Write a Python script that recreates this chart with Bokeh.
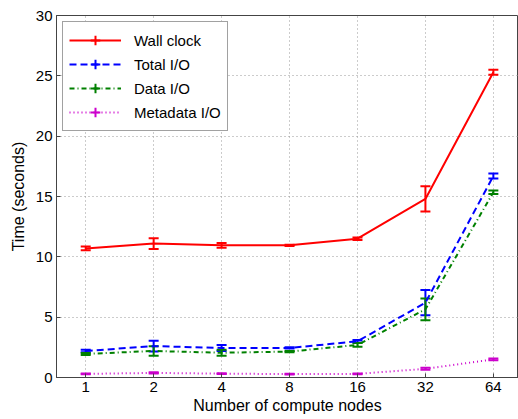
import numpy as np
from bokeh.plotting import figure
from bokeh.models import (ColumnDataSource, Whisker, TeeHead, Legend, LegendItem,
                          FixedTicker)
from bokeh.embed import file_html
from bokeh.resources import INLINE

nodes = [1, 2, 4, 8, 16, 32, 64]
tick_labels = ["1", "2", "4", "8", "16", "32", "64"]

wall = [10.7, 11.1, 10.95, 10.95, 11.5, 14.8, 25.3]
wall_err = [0.15, 0.45, 0.2, 0.05, 0.1, 1.05, 0.2]
total = [2.2, 2.6, 2.45, 2.45, 3.0, 6.2, 16.7]
total_err = [0.1, 0.45, 0.25, 0.05, 0.1, 1.05, 0.2]
data_io = [1.95, 2.2, 2.05, 2.15, 2.7, 5.65, 15.35]
data_err = [0.08, 0.4, 0.25, 0.05, 0.15, 0.9, 0.15]
meta = [0.3, 0.38, 0.32, 0.28, 0.3, 0.72, 1.5]
meta_err = [0.04, 0.05, 0.04, 0.03, 0.04, 0.08, 0.08]

FONT = "Liberation Sans"
xpos = list(np.log2(nodes))

p = figure(width=518, height=419, output_backend="svg", toolbar_location=None,
           x_range=(-0.43, 6.37), y_range=(0, 30),
           min_border_left=56, min_border_top=15, min_border_right=0, min_border_bottom=42)

p.outline_line_color = "#444444"
p.outline_line_width = 1
p.background_fill_color = "white"
p.border_fill_color = "white"

for ax in (p.xaxis[0], p.yaxis[0]):
    ax.major_label_text_font = FONT
    ax.major_label_text_font_size = "15px"
    ax.major_label_text_color = "black"
    ax.axis_label_text_font = FONT
    ax.axis_label_text_font_size = "16px"
    ax.axis_label_text_font_style = "normal"
    ax.axis_label_text_color = "black"
    ax.axis_line_color = "#444444"
    ax.major_tick_line_color = "#444444"
    ax.major_tick_in = 4
    ax.major_tick_out = 0
    ax.minor_tick_line_color = None

p.xaxis.ticker = FixedTicker(ticks=xpos)
p.xaxis.major_label_overrides = {float(x): l for x, l in zip(xpos, tick_labels)}
p.yaxis.ticker = FixedTicker(ticks=[0, 5, 10, 15, 20, 25, 30])
p.xaxis.axis_label = "Number of compute nodes"
p.yaxis.axis_label = "Time (seconds)"
p.xaxis.axis_label_standoff = 2
p.yaxis.axis_label_standoff = 6
p.xaxis.major_label_standoff = 4
p.yaxis.major_label_standoff = 4

p.xgrid.grid_line_color = "#999999"
p.ygrid.grid_line_color = "#999999"
p.xgrid.grid_line_dash = "1 3"
p.ygrid.grid_line_dash = "1 3"
p.xgrid.grid_line_width = 1
p.ygrid.grid_line_width = 1

series = [
    ("Wall clock", wall, wall_err, "#ff0000", "solid"),
    ("Total I/O", total, total_err, "#0000ff", "7 4"),
    ("Data I/O", data_io, data_err, "#008000", "5 3 1 3"),
    ("Metadata I/O", meta, meta_err, "#cc00cc", "1 3"),
]

items = []
for name, vals, errs, color, dash in series:
    src = ColumnDataSource(dict(
        x=xpos, y=vals,
        upper=[v + e for v, e in zip(vals, errs)],
        lower=[v - e for v, e in zip(vals, errs)],
    ))
    ln = p.line("x", "y", source=src, line_color=color, line_width=2, line_dash=dash)
    wk = Whisker(base="x", upper="upper", lower="lower", source=src,
                 line_color=color, line_width=2,
                 upper_head=TeeHead(size=10, line_color=color, line_width=2),
                 lower_head=TeeHead(size=10, line_color=color, line_width=2))
    p.add_layout(wk)
    # zero-size markers: invisible in the plot, give the legend its error-bar glyph
    mk = p.scatter("x", "y", source=src, marker="cross", size=0,
                   line_color=color, line_width=2)
    items.append(LegendItem(label=name, renderers=[ln, mk]))

legend = Legend(items=items, location="top_left")
legend.label_text_font = FONT
legend.label_text_font_size = "15px"
legend.label_text_color = "black"
legend.border_line_color = "#444444"
legend.border_line_width = 1
legend.background_fill_color = "white"
legend.background_fill_alpha = 1
legend.glyph_width = 52
legend.glyph_height = 24
legend.label_standoff = 13
legend.spacing = 0
legend.padding = 6
legend.margin = 6
p.add_layout(legend)

open("out.html", "w").write(file_html(p, INLINE))
